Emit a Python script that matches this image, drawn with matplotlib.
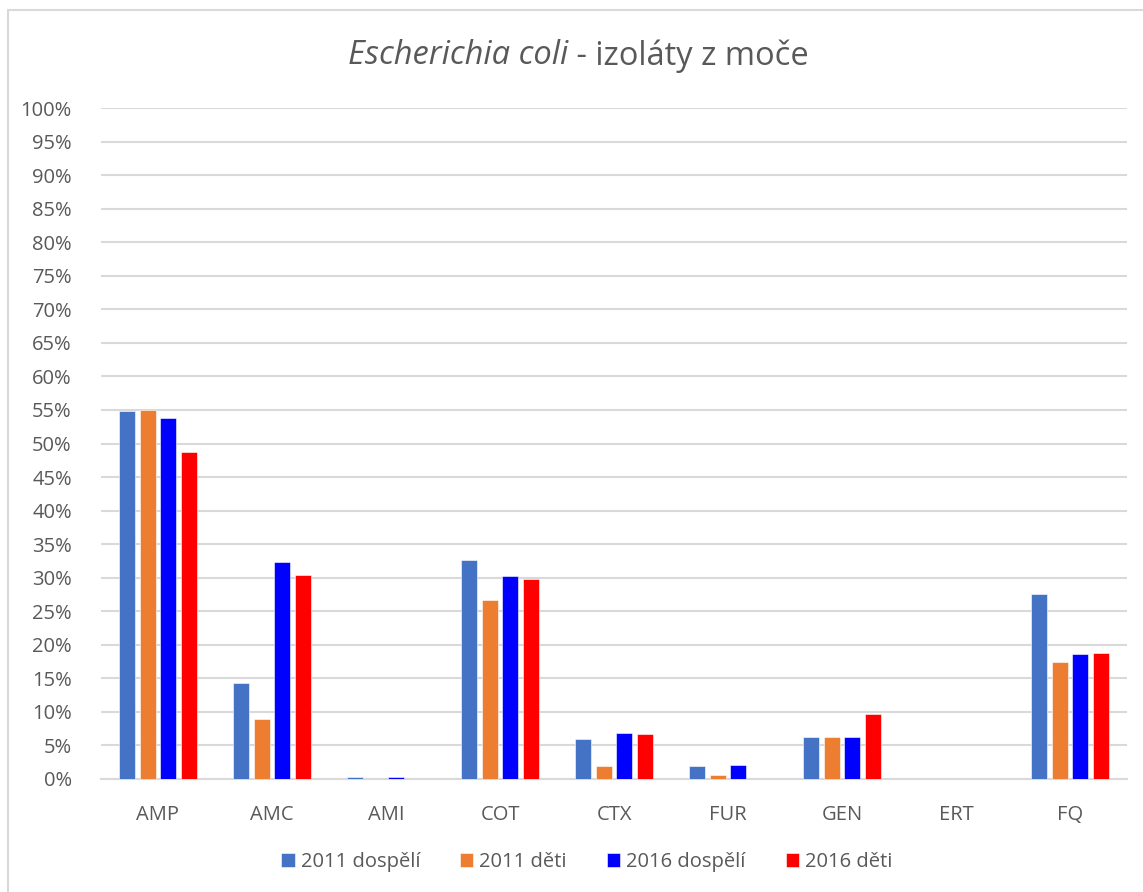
import numpy as np
import matplotlib.pyplot as plt
from matplotlib.patches import Rectangle

plt.rcParams['font.family'] = ['Open Sans', 'DejaVu Sans']

categories = ["AMP", "AMC", "AMI", "COT", "CTX", "FUR", "GEN", "ERT", "FQ"]
series_names = ["2011 dospělí", "2011 děti", "2016 dospělí", "2016 děti"]
adults_2011 = [54.8, 14.3, 0.3, 32.7, 5.9, 2.0, 6.2, 0.0, 27.6]
children_2011 = [55.0, 9.0, 0.0, 26.7, 2.0, 0.6, 6.2, 0.0, 17.5]
adults_2016 = [53.8, 32.3, 0.3, 30.3, 6.8, 2.1, 6.2, 0.05, 18.6]
children_2016 = [48.8, 30.4, 0.0, 29.8, 6.7, 0.0, 9.7, 0.0, 18.8]
colors = ["#4472c4", "#ed7d31", "#0000ff", "#ff0000"]

series = [adults_2011, children_2011, adults_2016, children_2016]

fig = plt.figure(figsize=(11.43, 8.92), dpi=100)
ax = fig.add_axes([101 / 1143, 1 - 779 / 892, 1026 / 1143, 671 / 892])

# light frame of the chart area
fig.patches.append(Rectangle((8 / 1143, -0.05), 1.2, 1 - 10 / 892 + 0.05,
                             transform=fig.transFigure, fill=False,
                             edgecolor="#d9d9d9", linewidth=1.5))

x = np.arange(len(categories))
step = 0.182
width = 0.14
for i, (vals, name, col) in enumerate(zip(series, series_names, colors)):
    ax.bar(x + (i - 1.5) * step, vals, width, color=col, label=name,
           edgecolor="white", linewidth=0.4, zorder=3)

ax.set_xlim(-0.5, len(categories) - 0.5)
ax.set_ylim(0, 100)
ax.set_yticks(np.arange(0, 101, 5))
ax.set_yticklabels([f"{v}%" for v in range(0, 101, 5)])
ax.set_xticks(x)
ax.set_xticklabels(categories)
ax.yaxis.grid(True, color="#d9d9d9", linewidth=1.5, zorder=0)
ax.set_axisbelow(True)
for s in ["top", "right", "left"]:
    ax.spines[s].set_visible(False)
ax.spines["bottom"].set_color("#d9d9d9")
ax.spines["bottom"].set_linewidth(1.5)
ax.tick_params(axis="both", length=0, labelsize=14.5, colors="#595959")
ax.tick_params(axis="y", pad=21)
ax.tick_params(axis="x", pad=19)

t1 = fig.text(348 / 1143, 1 - 56 / 892, "Escherichia coli", fontsize=23.5,
              style="italic", color="#595959", va="center", ha="left")
ax.annotate(" - izoláty z moče", xy=(1, 0.5), xycoords=t1, fontsize=23.5,
            color="#595959", va="center", ha="left")

leg = fig.legend(loc="center", bbox_to_anchor=(587 / 1143, 1 - 862 / 892),
                 ncol=4, frameon=False, fontsize=14.5, handlelength=0.65,
                 handleheight=0.65, handletextpad=0.3, columnspacing=2.0)
for txt in leg.get_texts():
    txt.set_color("#595959")

fig.savefig("out.png", dpi=100)
